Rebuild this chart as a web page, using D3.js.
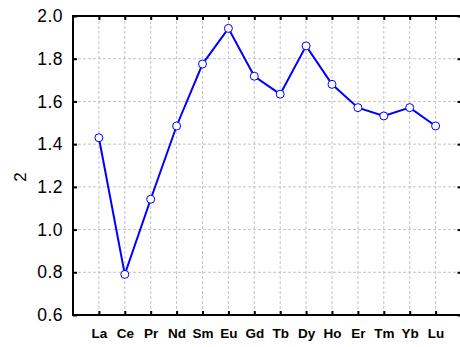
<!DOCTYPE html>
<html><head><meta charset="utf-8">
<script src="https://cdn.jsdelivr.net/npm/d3@7"></script>
<style>body{margin:0;background:#fff}svg{display:block}</style>
</head><body>
<script>
const categories = ["La","Ce","Pr","Nd","Sm","Eu","Gd","Tb","Dy","Ho","Er","Tm","Yb","Lu"];
const values = [1.43,0.79,1.142,1.485,1.775,1.942,1.718,1.634,1.86,1.68,1.571,1.532,1.571,1.485];
const yTicks = [0.6,0.8,1.0,1.2,1.4,1.6,1.8,2.0];
const yLabel = "2";

const W = 460, H = 347;
const mLeft = 73, mTop = 16, mBottom = 315;
const step = 25.9;
const mRight = mLeft + step * (categories.length + 1);

const svg = d3.select("body").append("svg").attr("width", W).attr("height", H);

const x = d3.scalePoint().domain(categories).range([mLeft + step, mRight - step]);
const y = d3.scaleLinear().domain([0.6, 2.0]).range([mBottom, mTop]);

// grid
const g = svg.append("g");
g.selectAll("line.v").data(categories).join("line")
  .attr("x1", d => x(d)).attr("x2", d => x(d)).attr("y1", mTop).attr("y2", mBottom)
  .attr("stroke", "#c4c4c4").attr("stroke-dasharray", "3,2").attr("stroke-width", 1);
g.selectAll("line.h").data(yTicks.slice(1, -1)).join("line")
  .attr("x1", mLeft).attr("x2", mRight).attr("y1", d => y(d)).attr("y2", d => y(d))
  .attr("stroke", "#c4c4c4").attr("stroke-dasharray", "3,2").attr("stroke-width", 1);

// axes
const axL = svg.append("g").attr("transform", `translate(${mLeft},0)`)
  .call(d3.axisLeft(y).tickValues(yTicks).tickFormat(d3.format(".1f")).tickSize(-4).tickPadding(10));
const axR = svg.append("g").attr("transform", `translate(${mRight},0)`)
  .call(d3.axisRight(y).tickValues(yTicks).tickFormat("").tickSize(-4));
const axB = svg.append("g").attr("transform", `translate(0,${mBottom})`)
  .call(d3.axisBottom(x).tickSize(-4).tickPadding(13));
const axT = svg.append("g").attr("transform", `translate(0,${mTop})`)
  .call(d3.axisTop(x).tickFormat("").tickSize(-4));
[axL, axR, axB, axT].forEach(a => {
  a.select(".domain").remove();
  a.selectAll(".tick line").attr("stroke", "#000").attr("stroke-width", 2);
});
svg.append("rect").attr("x", mLeft).attr("y", mTop).attr("width", mRight - mLeft).attr("height", mBottom - mTop)
  .attr("fill", "none").attr("stroke", "#000").attr("stroke-width", 2);

axL.selectAll("text").attr("font-family", "Liberation Sans, Arial, sans-serif")
  .attr("font-size", 17.5).attr("letter-spacing", 0.5).attr("fill", "#000");
axB.selectAll("text").attr("font-family", "Liberation Sans, Arial, sans-serif")
  .attr("font-size", 13.5).attr("font-weight", "bold").attr("fill", "#000");

svg.append("text").attr("transform", `translate(20,177) rotate(-90)`)
  .attr("text-anchor", "middle").attr("dominant-baseline", "central")
  .attr("font-family", "Liberation Sans, Arial, sans-serif").attr("font-size", 17)
  .text(yLabel);

// series
const data = categories.map((c, i) => ({c, v: values[i]}));
svg.append("path").datum(data)
  .attr("d", d3.line().x(d => x(d.c)).y(d => y(d.v)))
  .attr("fill", "none").attr("stroke", "#0000ff").attr("stroke-width", 2);
svg.selectAll("circle.pt").data(data).join("circle")
  .attr("cx", d => x(d.c)).attr("cy", d => y(d.v)).attr("r", 4)
  .attr("fill", "#fff").attr("stroke", "#0000ff").attr("stroke-width", 1);
</script>
</body></html>
